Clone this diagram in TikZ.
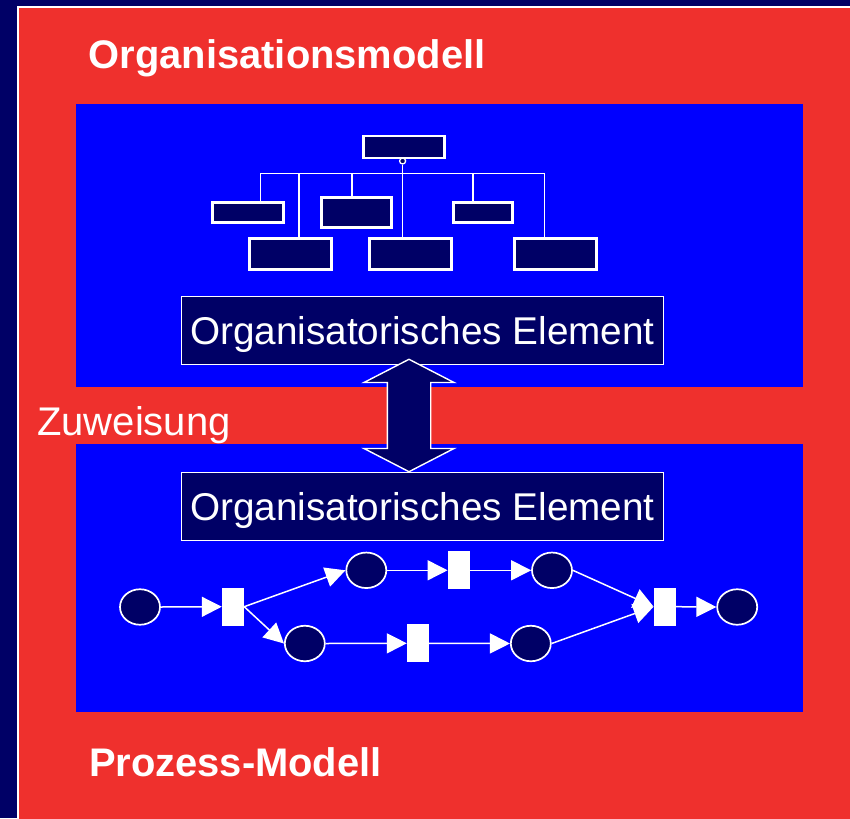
\documentclass[tikz,border=0pt]{standalone}
\usepackage{fontspec}
\setmainfont{Liberation Sans}
\usetikzlibrary{arrows.meta,calc,shapes.geometric}
\definecolor{navy}{RGB}{0,0,102}
\definecolor{slidered}{RGB}{239,48,45}
\definecolor{panelblue}{RGB}{0,0,255}
\begin{document}
\begin{tikzpicture}[x=1pt,y=-1pt,
  panel/.style={rectangle,fill=panelblue,inner sep=0pt,outer sep=0pt},
  heading/.style={text=white,font=\bfseries\fontsize{39.9}{42}\selectfont,anchor=base west,inner sep=0pt},
  orgbox/.style={rectangle,draw=white,fill=navy,line width=2.8pt,inner sep=0pt},
  link/.style={draw=white,line width=1.5pt},
  elembox/.style={rectangle,draw=white,fill=navy,line width=1.3pt,inner sep=0pt,
    text=white,font=\fontsize{38.7}{40}\selectfont,text height=27.7pt,text depth=0pt,
    minimum width=481.7pt,minimum height=67.7pt},
  place/.style={ellipse,draw=white,fill=navy,line width=1.7pt,inner sep=0pt,
    minimum width=40pt,minimum height=35.5pt},
  trans/.style={rectangle,fill=white,inner sep=0pt,minimum width=22pt,minimum height=38pt},
  flow/.style={draw=white,line width=1.5pt,-{Triangle[length=20pt,width=20pt]}}
]
\useasboundingbox (0,0) rectangle (850,818);

% slide background and red frame
\fill[navy] (0,0) rectangle (850,818);
\fill[slidered] (18,7) rectangle (851,819);
\draw[white,line width=1.5pt] (851,7) -- (18,7) -- (18,819);

% the two model panels
\node[panel,minimum width=727pt,minimum height=282.7pt] (orgpanel) at (439.5,245.35) {};
\node[panel,minimum width=727pt,minimum height=268pt] (procpanel) at (439.5,578) {};

\node[heading] (orgtitle) at (88.5,68.3) {Organisationsmodell};
\node[heading] (proctitle) at (88.8,776.7) {Prozess-Modell};

% organisation chart
\node[orgbox,minimum width=81pt,minimum height=22pt] (head) at (404,147) {};
\node[orgbox,minimum width=70.4pt,minimum height=20pt] (u1) at (248,212.2) {};
\node[orgbox,minimum width=70.3pt,minimum height=30pt] (u2) at (356.7,212.5) {};
\node[orgbox,minimum width=58.4pt,minimum height=20pt] (u3) at (483,212.2) {};
\node[orgbox,minimum width=82.3pt,minimum height=30.4pt] (u4) at (290.3,254) {};
\node[orgbox,minimum width=82pt,minimum height=30.4pt] (u5) at (410.8,254) {};
\node[orgbox,minimum width=81.7pt,minimum height=30.4pt] (u6) at (555.7,254) {};
\coordinate (hub) at (402.6,173.3);
\draw[link] ([xshift=12.7pt]u1.north) |- (hub);
\draw[link] ([xshift=8.7pt]u4.north) |- (hub);
\draw[link] ([xshift=-4.7pt]u2.north) |- (hub);
\draw[link] ([xshift=-8.5pt]u5.north) |- (hub);
\draw[link] ([xshift=-10pt]u3.north) |- (hub);
\draw[link] ([xshift=-11.4pt]u6.north) |- (hub);
\node[circle,draw=white,fill=navy,line width=1.3pt,minimum size=6pt,inner sep=0pt] (knob) at (402.6,161) {};
\draw[link] (knob) -- (hub);

% organisational element in both models
\node[elembox] (orgelem) at (422.5,330.5) {Organisatorisches Element};
\node[elembox] (procelem) at (422.5,506.5) {Organisatorisches Element};

% assignment arrow between the two elements
\coordinate (zw) at (409,415.5);
\draw[white,line width=1.4pt,fill=navy]
  ($(zw)+(0,-56.2)$) -- ++(45,23.2) -- ++(-23.3,0) -- ++(0,66) -- ++(23.3,0)
  -- ($(zw)+(0,56.2)$) -- ++(-45,-23.2) -- ++(23.3,0) -- ++(0,-66) -- ++(-23.3,0) -- cycle;
\node[text=white,font=\fontsize{40}{42}\selectfont,anchor=base west,inner sep=0pt] (zuw) at (37,435) {Zuweisung};

% process net
\node[place] (p1) at (140,607) {};
\node[trans] (t1) at (233,606.7) {};
\node[place] (p2) at (366.3,570.3) {};
\node[place] (p3) at (304.8,643.5) {};
\node[trans] (t2) at (458.8,570.3) {};
\node[trans] (t3) at (418,643.3) {};
\node[place] (p4) at (552,570.3) {};
\node[place] (p5) at (530.8,643.5) {};
\node[trans] (t4) at (664.8,606.7) {};
\node[place] (p6) at (737.2,607) {};

\draw[flow] (p1.east) -- (t1.west);
\draw[flow] (t1.east) -- (p2.west);
\draw[flow] (t1.east) -- (p3.west);
\draw[flow] (p2.east) -- (t2.west);
\draw[flow] (t2.east) -- (p4.west);
\draw[flow] (p3.east) -- (t3.west);
\draw[flow] (t3.east) -- (p5.west);
\draw[flow] (p4.east) -- (t4.west);
\draw[flow] (p5.east) -- (t4.west);
\draw[flow] (t4.east) -- (p6.west);
\end{tikzpicture}
\end{document}
